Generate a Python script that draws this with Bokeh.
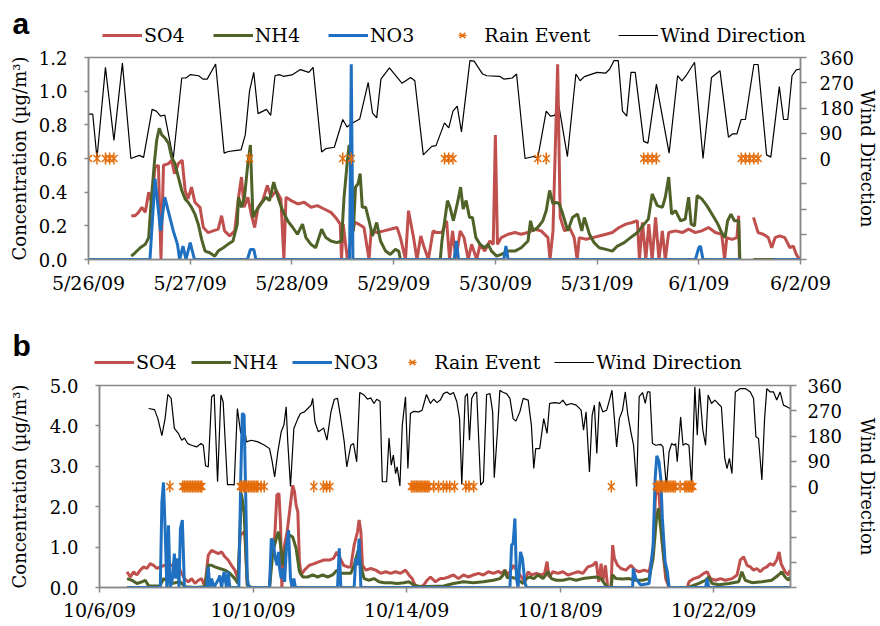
import math
from bokeh.plotting import figure
from bokeh.models import (Range1d, LinearAxis, FixedTicker, NumeralTickFormatter,
                          Legend, LegendItem, Label)
from bokeh.layouts import column
from bokeh.embed import file_html
from bokeh.resources import INLINE

NaN = float("nan")

# ---------------- Panel a : hours since 5/26/09 00:00 ----------------
a_tick_hours = [0, 24, 48, 72, 96, 120, 144, 168]
a_tick_labels = ["5/26/09", "5/27/09", "5/28/09", "5/29/09", "5/30/09", "5/31/09", "6/1/09", "6/2/09"]
a_conc_ticks = [0.0, 0.2, 0.4, 0.6, 0.8, 1.0, 1.2]

so4_a = [(10.1, 0.26), (11.0, 0.26), (11.8, 0.28), (12.6, 0.31), (13.4, 0.28), (14.2, 0.40), (14.9, 0.34),
         (15.7, 0.55), (16.5, 0.56), (17.1, 0.0), (17.7, 0.56), (18.9, 0.57), (19.6, 0.59), (20.3, 0.51),
         (21.2, 0.57), (22.1, 0.59), (22.8, 0.41), (23.5, 0.36), (24.3, 0.43), (25.1, 0.34), (26.3, 0.31),
         (27.1, 0.19), (28.2, 0.16), (29.4, 0.17), (30.6, 0.18), (31.4, 0.26), (32.1, 0.17), (33.3, 0.14),
         (34.5, 0.17), (35.4, 0.37), (36.1, 0.49), (36.7, 0.31), (37.6, 0.37), (38.4, 0.27), (39.2, 0.19),
         (40.0, 0.31), (41.1, 0.35), (42.2, 0.44), (43.1, 0.37), (44.3, 0.41), (45.4, 0.36), (46.1, 0.0),
         (46.6, 0.37), (47.8, 0.35), (49.4, 0.33), (50.9, 0.34), (52.5, 0.31), (54.0, 0.32), (55.6, 0.30),
         (57.2, 0.28), (58.3, 0.25), (59.4, 0.21), (59.7, 0.0), (60.1, 0.21), (61.1, 0.0), (62.8, 0.22),
         (63.8, 0.21), (65.0, 0.19), (66.2, 0.0), (66.7, 0.17), (68.1, 0.16), (69.7, 0.17), (71.2, 0.18),
         (72.8, 0.19), (73.6, 0.13), (74.8, 0.0), (75.5, 0.29), (76.7, 0.13), (77.5, 0.0), (78.4, 0.14),
         (79.1, 0.08), (80.2, 0.0), (81.3, 0.17), (82.2, 0.16), (83.4, 0.16), (84.5, 0.23), (85.2, 0.0),
         (85.9, 0.17), (86.7, 0.0), (87.7, 0.17), (88.6, 0.13), (89.6, 0.0), (90.4, 0.09), (91.6, 0.0),
         (92.4, 0.09), (93.5, 0.05), (94.7, 0.11), (95.5, 0.09), (96.0, 0.74), (96.5, 0.09), (97.4, 0.13),
         (99.0, 0.15), (100.6, 0.16), (102.1, 0.15), (103.7, 0.16), (105.3, 0.18), (106.8, 0.17),
         (108.4, 0.13), (108.9, 0.0), (109.6, 0.17), (110.7, 1.16), (111.3, 0.25), (112.3, 0.17),
         (113.5, 0.19), (114.6, 0.13), (115.3, 0.0), (115.8, 0.13), (117.4, 0.12), (119.0, 0.13),
         (120.5, 0.14), (122.1, 0.15), (123.6, 0.16), (125.2, 0.19), (126.8, 0.21), (128.3, 0.22),
         (129.5, 0.23), (130.0, 0.0), (130.7, 0.22), (131.5, 0.0), (132.2, 0.21), (133.0, 0.0),
         (133.8, 0.25), (134.6, 0.0), (135.4, 0.17), (136.1, 0.0), (136.9, 0.16), (138.5, 0.17),
         (140.1, 0.16), (141.6, 0.18), (143.2, 0.16), (144.7, 0.17), (146.3, 0.19), (147.9, 0.16),
         (149.4, 0.15), (150.1, 0.0), (150.6, 0.13), (151.8, 0.12), (153.0, 0.13), (153.4, 0.26),
         (153.6, 0.0), (155.0, NaN), (156.9, 0.25), (158.0, 0.16), (159.2, 0.15), (160.4, 0.13),
         (161.2, 0.07), (162.0, 0.13), (163.1, 0.14), (164.3, 0.13), (165.5, 0.07), (166.3, 0.08),
         (167.0, 0.03), (167.8, 0.0)]

nh4_a = [(10.1, 0.02), (11.0, 0.04), (12.2, 0.07), (13.4, 0.09), (14.2, 0.13), (14.8, 0.35), (15.6, 0.59),
         (16.1, 0.71), (16.7, 0.78), (17.3, 0.74), (18.1, 0.72), (18.9, 0.69), (19.6, 0.61), (20.4, 0.57),
         (21.2, 0.49), (22.0, 0.41), (22.8, 0.36), (23.5, 0.34), (24.3, 0.31), (25.1, 0.27), (25.9, 0.21),
         (26.7, 0.12), (27.5, 0.05), (28.6, 0.04), (29.8, 0.02), (30.6, 0.05), (31.8, 0.07), (32.9, 0.09),
         (34.1, 0.11), (35.1, 0.21), (35.4, 0.37), (36.1, 0.31), (36.8, 0.37), (37.6, 0.57), (38.2, 0.68),
         (38.8, 0.25), (39.6, 0.29), (40.7, 0.33), (41.9, 0.37), (42.7, 0.35), (43.7, 0.46), (44.7, 0.37),
         (45.8, 0.29), (47.0, 0.23), (48.2, 0.19), (49.3, 0.15), (50.5, 0.21), (51.3, 0.13), (52.5, 0.09),
         (53.6, 0.07), (55.0, 0.18), (56.0, 0.13), (57.2, 0.11), (58.6, 0.10), (59.7, 0.11), (60.3, 0.37),
         (61.1, 0.59), (61.5, 0.68), (61.9, 0.59), (62.5, 0.17), (63.0, 0.43), (63.6, 0.45), (64.1, 0.51),
         (64.6, 0.31), (65.4, 0.31), (66.2, 0.23), (67.0, 0.14), (68.0, 0.22), (68.9, 0.11), (70.1, 0.05),
         (71.2, 0.03), (72.4, 0.06), (73.2, 0.05), (73.6, 0.0), (83.0, 0.0), (83.4, 0.11), (84.7, 0.35),
         (85.3, 0.31), (86.1, 0.23), (87.0, 0.33), (87.8, 0.43), (88.4, 0.30), (89.1, 0.35), (89.9, 0.25),
         (90.6, 0.25), (91.4, 0.13), (92.4, 0.09), (93.5, 0.07), (94.3, 0.09), (95.1, 0.05), (96.3, 0.02),
         (97.4, 0.03), (99.0, 0.05), (100.6, 0.05), (102.1, 0.07), (103.7, 0.11), (104.3, 0.23),
         (104.9, 0.17), (106.0, 0.19), (107.2, 0.23), (108.0, 0.29), (108.8, 0.41), (109.6, 0.33),
         (110.3, 0.34), (111.1, 0.33), (111.9, 0.27), (113.1, 0.17), (114.2, 0.25), (115.4, 0.27),
         (116.4, 0.17), (117.0, 0.25), (118.2, 0.15), (119.3, 0.10), (120.5, 0.07), (122.1, 0.06),
         (123.6, 0.05), (124.8, 0.08), (126.4, 0.10), (127.9, 0.13), (129.5, 0.16), (131.1, 0.21),
         (132.1, 0.24), (133.0, 0.39), (134.2, 0.32), (135.4, 0.31), (136.1, 0.37), (136.9, 0.49),
         (137.6, 0.27), (138.5, 0.29), (139.7, 0.23), (140.8, 0.24), (141.6, 0.37), (142.2, 0.21),
         (143.0, 0.20), (143.6, 0.38), (144.7, 0.36), (145.9, 0.32), (147.1, 0.27), (148.3, 0.22),
         (149.4, 0.16), (150.2, 0.13), (150.8, 0.23), (151.6, 0.27), (152.4, 0.23), (153.4, 0.23),
         (153.7, 0.0), (155.0, NaN), (156.9, 0.0), (168.0, 0.0)]

no3_a = [(0.0, 0.0), (14.5, 0.0), (15.7, 0.48), (17.0, 0.17), (18.0, 0.37), (19.2, 0.25), (20.0, 0.17),
         (21.0, 0.09), (21.5, 0.0), (22.3, 0.08), (23.0, 0.0), (24.0, 0.10), (25.0, 0.0), (37.5, 0.0),
         (38.2, 0.06), (39.0, 0.06), (39.5, 0.0), (61.6, 0.0), (62.0, 1.16), (62.4, 0.0), (86.3, 0.0),
         (86.8, 0.11), (87.3, 0.0), (98.0, 0.0), (98.5, 0.08), (99.0, 0.0), (143.2, 0.0), (144.0, 0.07),
         (144.4, 0.08), (145.0, 0.0), (153.7, 0.0), (155.0, NaN), (161.6, 0.0), (168.0, 0.0)]

wind_a = [(0, 158), (1, 158), (2, 1), (4, 325), (6, 64), (8, 340), (10, 0), (12, 11), (13, 4), (15, 175),
          (16, 169), (17, 151), (18, 155), (20, 0), (22, 287), (23, 287), (24, 299), (26, 295), (27, 283),
          (28, 283), (30, 337), (32, 19), (33, 25), (35, 29), (36, 31), (37, 85), (38, 241), (39, 307),
          (40, 160), (42, 175), (43, 154), (44, 295), (45, 299), (46, 293), (48, 298), (50, 317), (52, 307),
          (53, 325), (55, 23), (56, 35), (58, 40), (60, 139), (61, 112), (62, 124), (64, 141), (66, 271),
          (67, 163), (68, 145), (69, 283), (71, 323), (74, 268), (76, 289), (77, 277), (79, 13), (81, 43),
          (82, 46), (84, 127), (85, 109), (86, 169), (87, 187), (88, 95), (90, 349), (91, 347), (93, 301),
          (94, 295), (97, 293), (98, 283), (100, 287), (101, 301), (103, 0), (105, 7), (106, 1), (108, 169),
          (109, 151), (110, 154), (111, 187), (113, 7), (115, 301), (116, 277), (117, 292), (120, 307),
          (122, 304), (123, 319), (124, 349), (125, 349), (126, 169), (127, 151), (128, 307), (129, 307),
          (131, 61), (132, 55), (134, 265), (137, 19), (139, 295), (140, 277), (141, 295), (143, 343),
          (145, 0), (147, 289), (149, 313), (151, 76), (152, 88), (153, 88), (154, 139), (155, 139),
          (157, 335), (158, 335), (160, 13), (161, 5), (163, 256), (164, 139), (165, 139), (166, 295),
          (167, 316), (168, 319)]

rain_a = [0, 2, 4, 5, 6, 38, 60, 62, 84, 85, 86, 106, 108, 131, 132, 133, 134, 154, 155, 156, 157, 158]

# ---------------- Panel b : hours since 10/6/09 00:00 ----------------
b_tick_hours = [0, 96, 192, 288, 384]
b_tick_labels = ["10/6/09", "10/10/09", "10/14/09", "10/18/09", "10/22/09"]
b_conc_ticks = [0.0, 1.0, 2.0, 3.0, 4.0, 5.0]

so4_b = [(17.2, 0.39), (19.3, 0.26), (21.3, 0.39), (23.4, 0.31), (25.5, 0.43), (27.6, 0.51), (29.6, 0.47),
         (31.7, 0.59), (33.8, 0.55), (35.9, 0.47), (37.9, 0.51), (41.0, 0.55), (45.2, 0.55), (49.3, 0.51),
         (53.1, 0.22), (55.6, 0.14), (57.6, 0.22), (59.7, 0.10), (61.8, 0.18), (63.8, 0.22), (65.9, 0.02),
         (68.0, 0.80), (70.1, 0.92), (72.1, 0.88), (74.2, 0.84), (76.3, 0.88), (78.4, 0.76), (80.4, 0.68),
         (82.5, 0.55), (84.6, 0.43), (86.6, 0.22), (87.9, 1.30), (90.8, 1.38), (92.4, 0.06), (94.9, 0.0),
         (106.3, 0.0), (107.4, 0.72), (109.5, 1.21), (110.9, 2.29), (112.2, 2.33), (113.2, 1.54),
         (114.0, 0.0), (115.7, 1.05), (117.3, 1.38), (118.8, 1.87), (119.8, 2.20), (120.8, 2.53),
         (121.9, 2.37), (122.9, 2.04), (124.0, 1.87), (125.0, 0.64), (126.0, 0.31), (128.1, 0.43),
         (131.2, 0.55), (134.3, 0.59), (137.4, 0.64), (140.5, 0.68), (143.7, 0.68), (146.3, 0.72),
         (148.4, 0.88), (150.5, 0.72), (152.6, 0.55), (155.1, 0.51), (157.1, 0.51), (159.2, 1.05),
         (161.3, 1.38), (162.3, 1.67), (163.4, 1.38), (164.4, 0.55), (166.5, 0.43), (169.6, 0.47),
         (172.7, 0.43), (175.8, 0.35), (178.9, 0.39), (182.0, 0.35), (185.1, 0.39), (188.2, 0.35),
         (191.3, 0.43), (193.4, 0.31), (195.5, 0.22), (197.6, 0.02), (199.6, 0.0), (202.7, 0.06),
         (204.8, 0.18), (206.9, 0.26), (210.0, 0.14), (213.1, 0.22), (215.1, 0.22), (218.2, 0.26),
         (221.3, 0.31), (224.4, 0.22), (227.5, 0.31), (230.6, 0.26), (233.8, 0.31), (236.9, 0.35),
         (240.0, 0.31), (243.1, 0.39), (246.2, 0.35), (249.3, 0.40), (251.4, 0.35), (253.5, 0.43),
         (255.5, 0.31), (258.6, 0.55), (262.8, 0.31), (265.9, 0.14), (268.0, 0.39), (270.0, 0.31),
         (273.1, 0.35), (276.3, 0.31), (278.3, 0.35), (279.8, 0.64), (281.0, 0.26), (283.5, 0.39),
         (286.6, 0.35), (289.7, 0.39), (292.8, 0.31), (296.0, 0.35), (299.1, 0.39), (302.2, 0.35),
         (305.3, 0.51), (308.4, 0.55), (310.5, 0.64), (312.1, 0.14), (313.6, 0.59), (314.6, 0.14),
         (316.3, 0.55), (317.7, 0.0), (319.8, 0.0), (320.8, 1.05), (321.9, 0.72), (323.9, 0.55),
         (326.0, 0.47), (329.1, 0.43), (332.2, 0.55), (334.9, 0.43), (337.4, 0.39), (340.5, 0.43),
         (343.6, 0.39), (346.1, 0.88), (347.8, 2.45), (349.8, 2.29), (351.9, 1.05), (354.0, 0.22),
         (356.1, 0.0), (367.5, 0.0), (368.5, 0.14), (371.6, 0.22), (374.7, 0.26), (377.8, 0.35),
         (379.9, 0.39), (382.0, 0.22), (385.1, 0.18), (388.2, 0.22), (391.3, 0.18), (395.5, 0.22),
         (398.6, 0.31), (400.6, 0.68), (402.7, 0.76), (404.8, 0.55), (406.9, 0.51), (408.9, 0.43),
         (411.0, 0.47), (413.1, 0.39), (415.1, 0.47), (417.2, 0.51), (419.3, 0.59), (421.4, 0.55),
         (423.4, 0.68), (424.9, 0.88), (426.1, 0.59), (428.6, 0.39), (430.7, 0.31), (431.8, 0.43)]

nh4_b = [(17.2, 0.22), (20.3, 0.18), (23.4, 0.10), (26.5, 0.14), (28.6, 0.18), (30.7, 0.04), (33.8, 0.04),
         (37.9, 0.04), (40.0, 0.22), (45.2, 0.10), (50.4, 0.14), (53.5, 0.02), (59.7, 0.0), (65.9, 0.02),
         (68.0, 0.55), (70.1, 0.55), (72.1, 0.51), (75.2, 0.47), (78.4, 0.43), (81.5, 0.35), (84.6, 0.22),
         (86.6, 0.10), (88.7, 2.33), (90.4, 1.87), (92.4, 0.06), (94.9, 0.0), (106.3, 0.0), (108.4, 0.88),
         (110.5, 1.21), (111.9, 1.38), (113.2, 1.05), (114.6, 0.55), (116.7, 1.05), (118.8, 1.30),
         (120.8, 1.25), (122.9, 0.97), (125.0, 0.39), (127.1, 0.26), (130.2, 0.26), (133.3, 0.31),
         (136.4, 0.26), (139.5, 0.31), (142.6, 0.26), (145.7, 0.31), (148.4, 0.43), (150.9, 0.35),
         (154.0, 0.35), (157.1, 0.35), (159.2, 0.55), (161.7, 0.92), (163.4, 0.55), (165.4, 0.22),
         (168.5, 0.18), (171.6, 0.22), (174.7, 0.14), (177.9, 0.12), (182.0, 0.12), (186.2, 0.10),
         (190.3, 0.12), (193.4, 0.14), (196.5, 0.06), (200.7, 0.02), (215.1, 0.04), (221.3, 0.10),
         (227.5, 0.14), (233.8, 0.12), (240.0, 0.14), (246.2, 0.18), (250.3, 0.22), (252.4, 0.31),
         (253.5, 0.43), (254.9, 0.24), (256.6, 0.26), (260.7, 0.22), (264.9, 0.10), (266.9, 0.22),
         (269.0, 0.26), (271.5, 0.22), (274.2, 0.31), (277.3, 0.22), (280.4, 0.39), (282.5, 0.22),
         (285.6, 0.18), (289.7, 0.18), (293.9, 0.22), (298.0, 0.18), (302.2, 0.22), (306.3, 0.24),
         (310.5, 0.26), (313.6, 0.22), (315.6, 0.10), (317.7, 0.0), (319.8, 0.0), (320.8, 0.31),
         (322.9, 0.22), (327.0, 0.21), (331.2, 0.22), (334.3, 0.18), (339.5, 0.18), (343.6, 0.22),
         (346.1, 0.72), (348.2, 1.71), (349.4, 1.96), (350.9, 1.46), (352.9, 0.72), (355.0, 0.22),
         (356.1, 0.0), (368.0, 0.0), (374.7, 0.10), (378.9, 0.18), (380.9, 0.26), (383.0, 0.10),
         (387.2, 0.07), (393.4, 0.10), (399.6, 0.14), (401.6, 0.39), (403.7, 0.18), (407.9, 0.12),
         (414.1, 0.14), (420.3, 0.18), (424.5, 0.31), (426.5, 0.39), (428.6, 0.26), (430.7, 0.18),
         (431.8, 0.26)]

no3_b = [(17.2, 0.0), (38.0, 0.0), (39.0, 2.12), (40.0, 2.60), (41.0, 1.46), (42.1, 0.0), (43.1, 1.54),
         (44.2, 0.0), (45.6, 0.22), (46.8, 0.84), (47.7, 0.22), (48.9, 0.72), (49.7, 0.0), (50.6, 1.46),
         (51.8, 1.67), (53.1, 0.0), (67.0, 0.0), (68.0, 0.51), (69.0, 0.0), (70.1, 0.22), (71.5, 0.0),
         (74.6, 0.22), (75.2, 0.30), (76.3, 0.0), (77.9, 0.39), (79.4, 0.0), (80.4, 0.39), (81.5, 0.0),
         (87.1, 0.0), (88.3, 2.70), (89.3, 4.31), (90.4, 4.27), (91.2, 2.70), (92.4, 0.22), (93.3, 0.0),
         (106.3, 0.0), (107.4, 1.21), (108.6, 1.13), (109.9, 0.72), (111.1, 0.55), (111.9, 0.88),
         (112.6, 0.47), (113.6, 0.22), (114.6, 0.47), (115.7, 0.14), (116.9, 1.00), (118.2, 1.42),
         (119.4, 0.22), (120.4, 0.0), (121.5, 0.22), (122.5, 0.0), (148.8, 0.0), (149.9, 0.97),
         (150.9, 0.0), (159.2, 0.0), (160.2, 0.72), (161.3, 0.55), (162.3, 1.21), (163.4, 0.0),
         (256.6, 0.0), (257.6, 1.05), (258.6, 1.09), (259.7, 1.71), (260.7, 0.22), (261.7, 0.0),
         (263.2, 0.88), (264.4, 0.72), (265.9, 0.14), (266.9, 0.0), (333.3, 0.0), (333.7, 0.47),
         (335.3, 0.22), (338.4, 0.06), (343.6, 0.10), (346.1, 1.05), (347.4, 2.70), (348.4, 3.26),
         (349.8, 3.11), (350.9, 2.70), (351.9, 1.71), (353.6, 0.64), (355.0, 0.39), (356.1, 0.0),
         (378.9, 0.0), (379.9, 0.22), (380.9, 0.0), (431.8, 0.0)]

wind_b = [(30.7, 278), (34.4, 274), (36.5, 242), (39.0, 181), (41.0, 242), (42.7, 328), (44.8, 314),
          (46.8, 207), (49.3, 189), (51.4, 165), (53.1, 173), (55.1, 153), (57.6, 147), (60.7, 141),
          (63.4, 153), (64.9, 147), (66.3, 74), (68.0, 70), (70.1, 320), (71.7, 328), (73.8, 17),
          (75.9, 326), (77.3, 302), (80.0, 7), (82.9, 7), (84.2, 5), (86.2, 278), (88.3, 189), (89.8, 260),
          (91.8, 159), (94.9, 165), (99.1, 159), (103.2, 147), (106.3, 135), (107.8, 94), (109.5, 34),
          (111.5, 124), (113.6, 195), (115.3, 219), (116.7, 284), (117.7, 159), (119.4, 0), (121.5, 207),
          (124.0, 242), (125.6, 260), (128.1, 266), (130.2, 278), (132.3, 290), (133.3, 314), (134.7, 230),
          (136.8, 195), (138.5, 201), (140.1, 209), (142.2, 165), (144.7, 266), (146.8, 311), (148.8, 314),
          (150.9, 242), (153.0, 159), (154.6, 70), (157.1, 147), (158.8, 153), (160.8, 88), (162.7, 335),
          (165.4, 326), (167.5, 311), (169.6, 316), (171.6, 296), (173.3, 311), (175.4, 304), (176.8, 17),
          (179.5, 17), (181.0, 173), (182.4, 76), (183.7, 112), (185.1, 46), (186.1, 70), (187.8, 2),
          (189.3, 219), (191.3, 320), (192.8, 64), (194.4, 260), (196.5, 268), (199.6, 266), (201.7, 272),
          (204.4, 328), (206.9, 296), (208.9, 311), (211.0, 299), (213.1, 308), (215.1, 331), (217.2, 337),
          (219.2, 328), (221.3, 335), (223.4, 302), (225.1, 242), (226.5, 7), (228.6, 320), (230.0, 331),
          (231.3, 165), (232.7, 314), (234.2, 331), (235.8, 337), (238.3, 5), (240.0, 17), (242.0, 328),
          (244.1, 331), (245.8, 266), (246.8, 31), (248.7, 189), (250.3, 343), (252.4, 335), (254.5, 331),
          (256.6, 314), (258.6, 242), (260.3, 233), (262.8, 266), (264.9, 314), (268.0, 308), (270.0, 219),
          (271.5, 64), (272.7, 135), (275.2, 135), (277.7, 242), (279.8, 189), (281.4, 296), (284.5, 299),
          (287.7, 296), (289.7, 308), (291.8, 290), (294.9, 296), (298.0, 290), (301.1, 272), (302.6, 201),
          (304.2, 266), (306.3, 52), (308.0, 254), (309.4, 290), (310.9, 118), (312.5, 302), (314.6, 266),
          (317.1, 272), (318.8, 308), (320.4, 343), (321.9, 242), (323.3, 141), (325.0, 242), (327.0, 272),
          (328.7, 337), (330.2, 260), (332.2, 195), (333.9, 147), (335.8, 0), (337.4, 320), (339.5, 335),
          (341.2, 296), (342.6, 337), (344.1, 337), (345.7, 153), (347.8, 147), (350.9, 150), (352.3, 141),
          (354.4, 0), (356.1, 124), (357.7, 153), (359.2, 147), (360.2, 153), (361.2, 88), (363.3, 248),
          (364.8, 147), (366.4, 153), (368.5, 147), (370.2, 5), (372.2, 355), (373.7, 183), (375.1, 349),
          (377.2, 201), (378.9, 147), (380.5, 326), (382.6, 296), (384.7, 308), (386.7, 296), (388.8, 284),
          (390.9, 100), (392.3, 64), (393.8, 100), (395.4, 46), (397.5, 337), (400.6, 349), (403.7, 349),
          (406.9, 337), (408.9, 314), (410.4, 177), (412.0, 171), (414.1, 23), (415.8, 242), (417.2, 349),
          (419.3, 337), (421.4, 337), (423.4, 308), (425.5, 337), (427.6, 290), (429.7, 284), (431.7, 278)]

rain_b = [44, 52, 53, 54, 55, 56, 57, 58, 59, 60, 61, 62, 63, 64,
          88, 89, 90, 91, 92, 93, 94, 95, 96, 97, 98, 99, 101, 103,
          134, 140, 142, 144,
          195, 196, 197, 198, 199, 200, 201, 202, 203, 204, 205, 206, 209, 212, 215, 217, 219, 222, 229, 231, 234,
          320,
          348, 349, 350, 351, 352, 353, 354, 355, 356, 357, 358, 359, 360, 363, 366, 367, 368, 369, 370, 371]

wind_ticks = [-360, -270, -180, -90, 0, 90, 180, 270, 360]
legend_labels = ["SO4", "NH4", "NO3", "Rain Event", "Wind Direction"]

# ---------------- styling ----------------
FONT = "DejaVu Serif"
TICK_FS = "18px"
LAB_FS = "19px"
AXLAB_FS = "18px"
GRAY = "#898989"
C_SO4 = "#C0504D"
C_NH4 = "#4F6228"
C_NO3 = "#1F70C0"
C_RAIN = "#E46C0A"
W = 880


def unzip(pairs):
    return [p[0] for p in pairs], [p[1] for p in pairs]


def no_align(p):
    try:
        p.frame_align = False
    except Exception:
        pass


def style_axis(ax):
    ax.axis_line_color = GRAY
    ax.axis_line_width = 1.5
    ax.major_tick_line_color = GRAY
    ax.major_tick_line_width = 1.5
    ax.major_tick_in = 0
    ax.minor_tick_line_color = None
    ax.minor_tick_out = 0
    ax.minor_tick_in = 0
    ax.major_label_text_font = FONT
    ax.major_label_text_font_size = TICK_FS
    ax.major_label_text_color = "black"
    ax.axis_label_text_font = FONT
    ax.axis_label_text_font_size = AXLAB_FS
    ax.axis_label_text_font_style = "normal"
    ax.axis_label_text_color = "black"


def rain_marks(p, xs, ys, y_range_name=None):
    kw = {} if y_range_name is None else {"y_range_name": y_range_name}
    r1 = p.scatter(xs, ys, marker="x", size=10, line_color=C_RAIN, line_width=1.5, **kw)
    r2 = p.scatter(xs, ys, marker="dash", angle=math.pi / 2, size=12, line_color=C_RAIN,
                   line_width=1.5, **kw)
    return r1, r2


def make_header(letter, height, letter_xy, letter_baseline, leg_loc, leg_spacing):
    h = figure(width=W, height=height, output_backend="svg", toolbar_location=None,
               x_range=Range1d(0, W), y_range=Range1d(0, height),
               min_border=0, x_axis_type=None, y_axis_type=None)
    no_align(h)
    h.xgrid.visible = False
    h.ygrid.visible = False
    h.outline_line_color = None
    h.background_fill_color = "white"
    h.border_fill_color = "white"
    # legend swatches only (no visible data in the header)
    r_so4 = h.line([NaN], [NaN], line_color=C_SO4, line_width=3)
    r_nh4 = h.line([NaN], [NaN], line_color=C_NH4, line_width=3)
    r_no3 = h.line([NaN], [NaN], line_color=C_NO3, line_width=3)
    r_x, r_d = rain_marks(h, [NaN], [NaN])
    r_wind = h.line([NaN], [NaN], line_color="black", line_width=1.2)
    rends = [[r_so4], [r_nh4], [r_no3], [r_x, r_d], [r_wind]]
    legend = Legend(items=[LegendItem(label=lab, renderers=r) for lab, r in zip(legend_labels, rends)],
                    orientation="horizontal", location=leg_loc, spacing=leg_spacing,
                    padding=0, margin=0, glyph_width=40, glyph_height=20, label_standoff=2,
                    label_text_font=FONT, label_text_font_size=LAB_FS, label_text_color="black",
                    border_line_alpha=0, background_fill_alpha=0)
    h.add_layout(legend)
    h.add_layout(Label(x=letter_xy[0], y=letter_xy[1], text=letter, text_font="Liberation Sans",
                       text_font_style="bold", text_font_size="30px", text_color="black",
                       text_align="left", text_baseline=letter_baseline))
    return h


def make_panel(x_end, tick_hours, tick_labels, y_end, conc_ticks, so4, nh4, no3, wind, rain,
               height, frame_w, b_left, b_top, b_bottom, x_std, y_std, y_lab_std, r_std, r_lab_std):
    p = figure(width=W, height=height, output_backend="svg", toolbar_location=None,
               x_range=Range1d(0, x_end), y_range=Range1d(0, y_end),
               min_border_left=b_left, min_border_right=W - b_left - frame_w,
               min_border_top=b_top, min_border_bottom=b_bottom)
    no_align(p)
    p.extra_y_ranges = {"wind": Range1d(-360, 360)}
    p.xgrid.visible = False
    p.ygrid.visible = False
    p.outline_line_color = GRAY
    p.outline_line_width = 1.5
    p.background_fill_color = "white"
    p.border_fill_color = "white"

    xa = p.xaxis[0]
    style_axis(xa)
    xa.ticker = FixedTicker(ticks=tick_hours)
    xa.major_label_overrides = dict(zip(tick_hours, tick_labels))
    xa.major_label_text_font_size = "19px"
    xa.major_tick_out = 5
    xa.major_label_standoff = x_std

    ya = p.yaxis[0]
    style_axis(ya)
    ya.ticker = FixedTicker(ticks=conc_ticks)
    ya.formatter = NumeralTickFormatter(format="0.0")
    ya.axis_label = "Concentration (\u00b5g/m\u00b3)"
    ya.major_tick_out = 4
    ya.major_label_standoff = y_std
    ya.axis_label_standoff = y_lab_std

    ra = LinearAxis(y_range_name="wind", axis_label="Wind Direction")
    style_axis(ra)
    ra.ticker = FixedTicker(ticks=wind_ticks)
    ra.major_label_overrides = {t: (str(t) if t >= 0 else "") for t in wind_ticks}
    ra.major_tick_out = 6
    ra.major_label_standoff = r_std
    ra.axis_label_standoff = r_lab_std
    p.add_layout(ra, "right")

    wx, wy = unzip(wind)
    p.line(wx, wy, y_range_name="wind", line_color="black", line_width=1.2)
    sx, sy = unzip(so4)
    p.line(sx, sy, line_color=C_SO4, line_width=3)
    nx, ny = unzip(nh4)
    p.line(nx, ny, line_color=C_NH4, line_width=3)
    ox, oy = unzip(no3)
    p.line(ox, oy, line_color=C_NO3, line_width=3)
    rain_marks(p, rain, [0 for _ in rain], "wind")
    return p


# page origin is (0, 0)
# panel a: header 0..46, plot 46..300 (frame x 88..804, y 57..259)
ha = make_header("a", 46, letter_xy=(12, 23), letter_baseline="middle", leg_loc=(102, 0), leg_spacing=28)
pa = make_panel(168, a_tick_hours, a_tick_labels, 1.2, a_conc_ticks, so4_a, nh4_a, no3_a, wind_a, rain_a,
                height=254, frame_w=716, b_left=88, b_top=11, b_bottom=41,
                x_std=7, y_std=17, y_lab_std=6, r_std=13, r_lab_std=0)

# panel b: header 300..374, plot 374..625 (frame x 99..795, y 385..587)
hb = make_header("b", 74, letter_xy=(12, 29), letter_baseline="alphabetic", leg_loc=(94, 1), leg_spacing=14)
pb = make_panel(432, b_tick_hours, b_tick_labels, 5.0, b_conc_ticks, so4_b, nh4_b, no3_b, wind_b, rain_b,
                height=251, frame_w=696, b_left=99, b_top=11, b_bottom=38,
                x_std=6, y_std=17, y_lab_std=17, r_std=11, r_lab_std=12)

layout = column(ha, pa, hb, pb, spacing=0)
open("out.html", "w").write(file_html(layout, INLINE))
